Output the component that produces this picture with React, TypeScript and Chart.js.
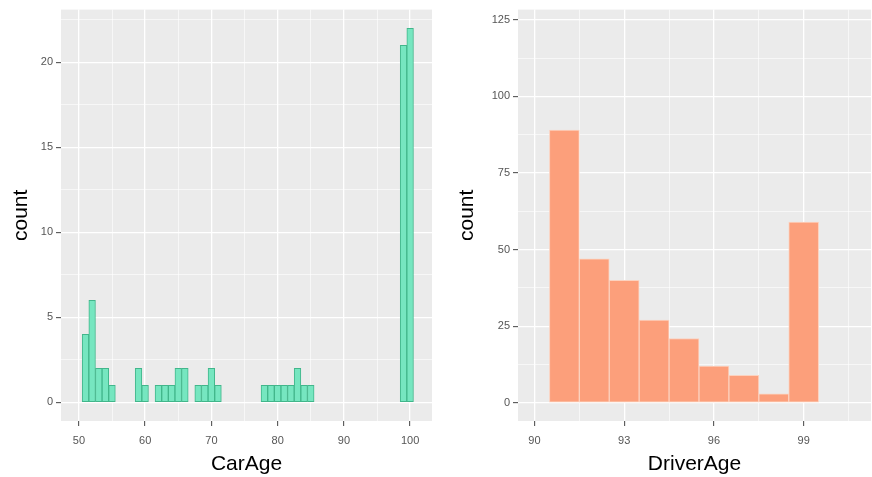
import { useEffect, useRef } from "react";
import { Chart, registerables } from "chart.js";

Chart.register(...registerables);

// CarAge histogram: bin centres and counts (bin width 1)
const carAgeBins = [51, 52, 53, 54, 55, 59, 60, 62, 63, 64, 65, 66, 68, 69, 70, 71, 78, 79, 80, 81, 82, 83, 84, 85, 99, 100];
const carAgeCounts = [4, 6, 2, 2, 1, 2, 1, 1, 1, 1, 2, 2, 1, 1, 2, 1, 1, 1, 1, 1, 1, 2, 1, 1, 21, 22];

// DriverAge histogram: bin centres and counts (bin width 1)
const driverAgeBins = [91, 92, 93, 94, 95, 96, 97, 98, 99];
const driverAgeCounts = [89, 47, 40, 27, 21, 12, 9, 3, 59];

// Axis breaks (major are labelled, minor only drawn as thin grid lines)
const carAgeMajorX = [50, 60, 70, 80, 90, 100];
const carAgeMinorX = [55, 65, 75, 85, 95];
const carAgeMajorY = [0, 5, 10, 15, 20];
const carAgeMinorY = [2.5, 7.5, 12.5, 17.5, 22.5];

const driverAgeMajorX = [90, 93, 96, 99];
const driverAgeMinorX = [91.5, 94.5, 97.5, 100.5];
const driverAgeMajorY = [0, 25, 50, 75, 100, 125];
const driverAgeMinorY = [12.5, 37.5, 62.5, 87.5, 112.5];

const FONT = "'Liberation Sans', Arial, Helvetica, sans-serif";
const CANVAS_W = 436;
const CANVAS_H = 477;

const panelBackground = {
  id: "panelBackground",
  beforeDraw(chart: any) {
    const { ctx, chartArea } = chart;
    ctx.save();
    ctx.fillStyle = "#EBEBEB";
    ctx.fillRect(chartArea.left, chartArea.top, chartArea.right - chartArea.left, chartArea.bottom - chartArea.top);
    ctx.restore();
  },
};

type Spec = {
  bins: number[];
  counts: number[];
  xTitle: string;
  xMin: number;
  xMax: number;
  yMin: number;
  yMax: number;
  majorX: number[];
  minorX: number[];
  majorY: number[];
  minorY: number[];
  fill: string;
  stroke: string;
  yAxisWidth: number;
  yTitlePad: number;
  rightPad: number;
};

const contains = (list: number[], v: number) => list.some((m) => Math.abs(m - v) < 1e-9);

function axisOptions(major: number[], minor: number[], min: number, max: number) {
  const all = [...major, ...minor].sort((a, b) => a - b);
  return {
    type: "linear" as const,
    min,
    max,
    offset: false,
    afterBuildTicks: (scale: any) => {
      scale.ticks = all.map((v) => ({ value: v }));
    },
    ticks: {
      autoSkip: false,
      maxRotation: 0,
      minRotation: 0,
      color: "#555555",
      font: { family: FONT, size: 11 },
      callback: (v: any) => (contains(major, Number(v)) ? String(v) : ""),
    },
    grid: {
      offset: false,
      color: "#FFFFFF",
      lineWidth: (c: any) => (c.tick && contains(major, c.tick.value) ? 1.3 : 0.6),
      drawTicks: true,
      tickLength: 5,
      tickWidth: 1,
      tickColor: (c: any) => (c.tick && contains(major, c.tick.value) ? "#444444" : "rgba(0,0,0,0)"),
    },
    border: { display: false },
  };
}

function buildConfig(s: Spec): any {
  const x: any = axisOptions(s.majorX, s.minorX, s.xMin, s.xMax);
  x.ticks.padding = 8;
  x.afterFit = (scale: any) => {
    scale.height = 56;
  };
  x.title = {
    display: true,
    text: s.xTitle,
    color: "#000000",
    font: { family: FONT, size: 21, lineHeight: 1 },
    padding: { top: 0, bottom: 2 },
  };

  const y: any = axisOptions(s.majorY, s.minorY, s.yMin, s.yMax);
  y.ticks.padding = 3;
  y.afterFit = (scale: any) => {
    scale.width = s.yAxisWidth;
  };
  y.title = {
    display: true,
    text: "count",
    color: "#000000",
    font: { family: FONT, size: 21, lineHeight: 1 },
    padding: { top: s.yTitlePad, bottom: 0 },
  };

  return {
    type: "bar",
    data: {
      datasets: [
        {
          data: s.bins.map((b, i) => ({ x: b, y: s.counts[i] })),
          backgroundColor: s.fill,
          borderColor: s.stroke,
          borderWidth: 1,
          borderSkipped: false,
          barPercentage: 1,
          categoryPercentage: 1,
        },
      ],
    },
    options: {
      responsive: false,
      animation: false,
      events: [],
      layout: { padding: { top: 7, right: s.rightPad, left: 0, bottom: 0 } },
      plugins: {
        legend: { display: false },
        tooltip: { enabled: false },
      },
      scales: { x, y },
    },
    plugins: [panelBackground],
  };
}

function Histogram({ spec, left }: { spec: Spec; left: number }) {
  const ref = useRef<HTMLCanvasElement>(null);
  useEffect(() => {
    const chart = new Chart(ref.current as HTMLCanvasElement, buildConfig(spec));
    return () => chart.destroy();
  }, [spec]);
  return (
    <canvas
      ref={ref}
      width={CANVAS_W}
      height={CANVAS_H}
      style={{ position: "absolute", left, top: 0, width: CANVAS_W, height: CANVAS_H }}
    />
  );
}

const carAgeSpec: Spec = {
  bins: carAgeBins,
  counts: carAgeCounts,
  xTitle: "CarAge",
  xMin: 47.3,
  xMax: 103.3,
  yMin: -1.1,
  yMax: 23.1,
  majorX: carAgeMajorX,
  minorX: carAgeMinorX,
  majorY: carAgeMajorY,
  minorY: carAgeMinorY,
  fill: "#76E6C0",
  stroke: "#42B68B",
  yAxisWidth: 61,
  yTitlePad: 10.5,
  rightPad: 4,
};

const driverAgeSpec: Spec = {
  bins: driverAgeBins,
  counts: driverAgeCounts,
  xTitle: "DriverAge",
  xMin: 89.45,
  xMax: 101.25,
  yMin: -5.9,
  yMax: 128.3,
  majorX: driverAgeMajorX,
  minorX: driverAgeMinorX,
  majorY: driverAgeMajorY,
  minorY: driverAgeMinorY,
  fill: "#FC9F7B",
  stroke: "#FCD2BF",
  yAxisWidth: 82,
  yTitlePad: 21,
  rightPad: 1,
};

export default function App() {
  return (
    <div style={{ position: "fixed", left: 0, top: 0, width: 872, height: 477, background: "#FFFFFF" }}>
      <Histogram spec={carAgeSpec} left={0} />
      <Histogram spec={driverAgeSpec} left={CANVAS_W} />
    </div>
  );
}
